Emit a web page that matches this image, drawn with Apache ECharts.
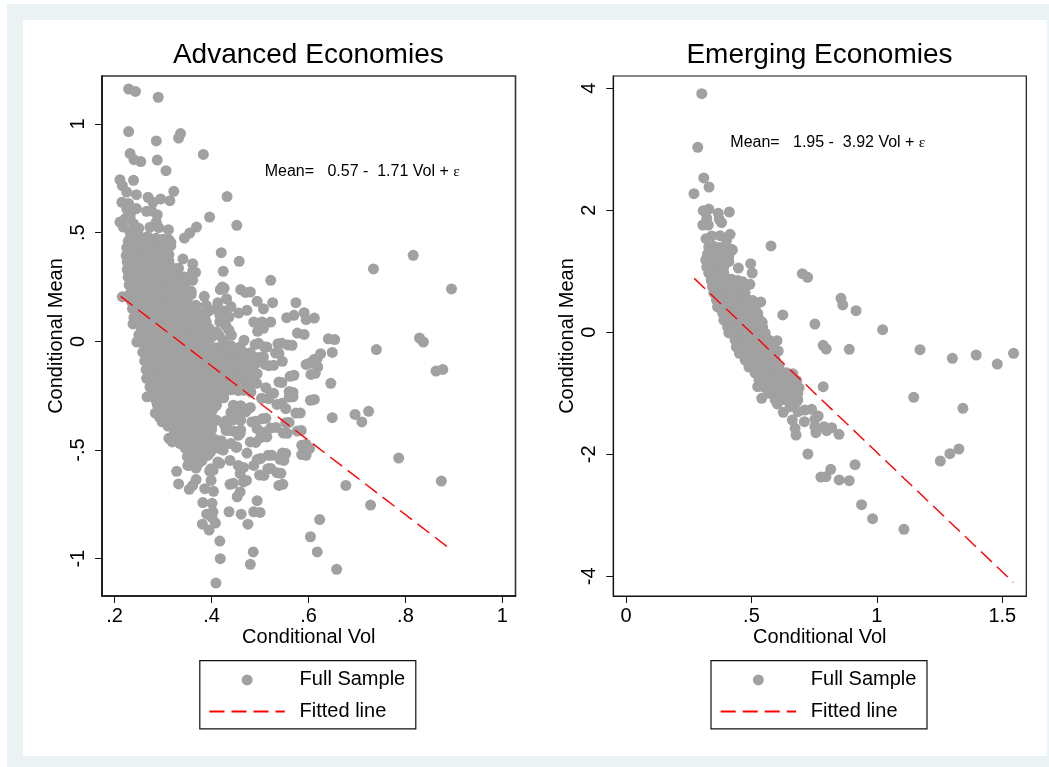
<!DOCTYPE html>
<html><head><meta charset="utf-8">
<style>html,body{margin:0;padding:0;background:#fff}#c{width:1049px;height:767px}</style>
<script src="https://cdn.jsdelivr.net/npm/echarts@6/dist/echarts.min.js"></script>
</head><body><div id="c"></div>
<script>
const advXTicks=[.2,.4,.6,.8,1];
const advYTicks=[-1,-.5,0,.5,1];
const emgXTicks=[0,.5,1,1.5];
const emgYTicks=[-4,-2,0,2,4];
const advFit=[[.2125,.207],[.895,-.96]];
const emgFit=[[.272,.884],[1.544,-4.1]];
const advOutliers=[[.229,1.161],[.243,1.15],[.29,1.123],[.229,.965],[.286,.922],[.336,.956],[.332,.935],[.383,.86],[.232,.864],[.24,.836],[.254,.827],[.288,.834],[.306,.785],[.239,.741],[.211,.744],[.216,.716],[.225,.687],[.245,.675],[.269,.663],[.279,.64],[.295,.655],[.314,.647],[.322,.69],[.432,.666],[.215,.64],[.229,.634],[.245,.611],[.266,.598],[.288,.583],[.396,.572],[.211,.549],[.222,.565],[.232,.572],[.452,.534],[.218,.526],[.239,.541],[.286,.549],[.273,.525],[.291,.523],[.311,.514],[.369,.526],[.355,.498],[.344,.475],[.232,.503],[.25,.52],[.276,.6],[.236,.6],[.225,.61]];
const advCore=[[.235,.49],[.25,.486],[.268,.482],[.285,.474],[.3,.47],[.312,.468],[.316,.455],
[.228,.46],[.246,.462],[.262,.455],[.28,.458],[.298,.447],[.31,.43],[.316,.44],
[.225,.43],[.24,.425],[.257,.43],[.275,.42],[.292,.428],[.308,.41],
[.224,.395],[.24,.39],[.256,.4],[.272,.385],[.29,.395],[.304,.39],[.312,.4],
[.226,.365],[.242,.36],[.258,.37],[.275,.36],[.292,.35],[.306,.36],[.312,.37],
[.226,.33],[.244,.325],[.26,.335],[.278,.325],[.295,.33],[.31,.32],[.322,.335],
[.228,.295],[.244,.29],[.262,.3],[.28,.29],[.296,.295],[.312,.285],[.326,.3],[.338,.282],
[.23,.26],[.247,.255],[.264,.265],[.28,.255],[.298,.26],[.315,.25],[.332,.262],[.344,.258],
[.232,.22],[.25,.225],[.267,.215],[.284,.225],[.3,.22],[.318,.215],[.335,.225],[.346,.22],[.358,.23],
[.216,.205],[.234,.185],[.252,.19],[.27,.18],[.286,.19],[.304,.18],[.32,.19],[.338,.18],[.35,.185],
[.237,.15],[.254,.145],[.27,.155],[.288,.145],[.305,.15],[.322,.14],[.34,.15],[.354,.145],
[.24,.11],[.256,.115],[.274,.105],[.29,.112],[.308,.105],[.325,.115],[.34,.105],[.355,.115],
[.238,.08],[.26,.07],[.278,.075],[.295,.065],[.312,.075],[.33,.065],[.345,.075],[.362,.07],
[.25,.03],[.265,.04],[.282,.03],[.3,.04],[.315,.03],[.332,.04],[.35,.03],[.367,.035],
[.246,-.003],[.267,-.01],[.285,.0],[.3,-.01],[.318,-.002],[.335,-.012],[.352,-.005],[.37,-.01],[.385,-.005],
[.258,-.05],[.272,-.045],[.29,-.055],[.306,-.045],[.322,-.052],[.34,-.045],[.356,-.055],[.373,-.045],[.39,-.05],
[.262,-.09],[.278,-.085],[.295,-.095],[.31,-.085],[.328,-.09],[.345,-.085],[.36,-.095],[.378,-.085],[.395,-.09],
[.265,-.13],[.282,-.125],[.298,-.135],[.315,-.125],[.332,-.13],[.35,-.125],[.365,-.135],[.382,-.125],[.4,-.13],[.41,-.12],
[.266,-.17],[.284,-.165],[.3,-.175],[.318,-.165],[.335,-.17],[.352,-.165],[.37,-.175],[.385,-.165],[.402,-.17],
[.273,-.21],[.288,-.205],[.305,-.215],[.322,-.205],[.34,-.21],[.355,-.205],[.372,-.215],[.39,-.205],[.405,-.21],
[.267,-.255],[.275,-.25],[.292,-.245],[.308,-.255],[.325,-.245],[.342,-.25],[.36,-.245],[.375,-.255],[.392,-.245],
[.288,-.29],[.296,-.285],[.312,-.295],[.33,-.285],[.345,-.29],[.362,-.285],[.38,-.295],[.396,-.285],[.409,-.29],
[.284,-.33],[.3,-.325],[.316,-.335],[.332,-.325],[.35,-.33],[.366,-.325],[.382,-.335],[.4,-.325],
[.298,-.37],[.312,-.365],[.33,-.375],[.345,-.365],[.36,-.37],[.378,-.365],[.392,-.375],[.402,-.365],
[.323,-.41],[.338,-.405],[.354,-.415],[.37,-.405],[.385,-.41],[.4,-.405],
[.312,-.446],[.319,-.463],[.33,-.45],[.345,-.445],[.36,-.455],[.375,-.445],[.39,-.45],[.402,-.445],
[.345,-.49],[.36,-.485],[.376,-.495],[.39,-.485],[.405,-.49],
[.35,-.53],[.364,-.525],[.378,-.535],[.392,-.525],[.355,-.57],[.372,-.565]];
const advFill=[[.232,.475],[.252,.475],[.27,.472],[.29,.468],[.304,.46],
[.232,.44],[.25,.44],[.266,.442],[.284,.438],[.302,.44],
[.232,.41],[.248,.41],[.265,.412],[.283,.408],[.3,.41],
[.232,.378],[.25,.378],[.266,.38],[.283,.376],[.3,.378],
[.234,.345],[.25,.345],[.268,.347],[.285,.343],[.302,.345],[.314,.345],
[.235,.31],[.252,.31],[.27,.312],[.288,.308],[.304,.31],[.32,.31],
[.238,.275],[.255,.275],[.272,.277],[.29,.273],[.306,.275],[.323,.275],[.336,.272],
[.24,.24],[.258,.24],[.275,.242],[.292,.238],[.31,.24],[.326,.24],[.34,.24],
[.242,.2],[.26,.2],[.278,.202],[.295,.198],[.312,.2],[.33,.2],[.342,.2],
[.245,.165],[.262,.165],[.28,.167],[.296,.163],[.313,.165],[.33,.165],[.345,.165],
[.247,.13],[.263,.13],[.28,.132],[.298,.128],[.315,.13],[.332,.13],[.35,.13],
[.25,.09],[.268,.09],[.286,.092],[.303,.088],[.32,.09],[.337,.09],[.353,.09],
[.255,.05],[.272,.05],[.29,.052],[.306,.048],[.323,.05],[.34,.05],[.356,.05],
[.258,.012],[.275,.012],[.292,.014],[.31,.01],[.326,.012],[.343,.012],[.36,.012],[.375,.012],
[.263,-.028],[.28,-.028],[.298,-.026],[.314,-.03],[.33,-.028],[.348,-.028],[.365,-.028],[.38,-.028],
[.27,-.07],[.285,-.07],[.3,-.068],[.318,-.072],[.335,-.07],[.35,-.07],[.365,-.07],[.382,-.07],[.397,-.07],
[.272,-.11],[.29,-.11],[.305,-.108],[.322,-.112],[.34,-.11],[.355,-.11],[.372,-.11],[.39,-.11],
[.273,-.15],[.29,-.15],[.31,-.148],[.326,-.152],[.343,-.15],[.36,-.15],[.378,-.15],[.393,-.15],
[.28,-.19],[.297,-.19],[.313,-.188],[.33,-.192],[.348,-.19],[.363,-.19],[.38,-.19],[.397,-.19],
[.28,-.23],[.298,-.23],[.315,-.228],[.332,-.232],[.35,-.23],[.365,-.23],[.382,-.23],[.398,-.23],
[.285,-.27],[.302,-.27],[.318,-.268],[.335,-.272],[.352,-.27],[.368,-.27],[.385,-.27],[.4,-.27],
[.295,-.31],[.305,-.31],[.323,-.308],[.34,-.312],[.355,-.31],[.372,-.31],[.39,-.31],[.403,-.31],
[.293,-.35],[.31,-.35],[.325,-.348],[.342,-.352],[.358,-.35],[.374,-.35],[.39,-.35],
[.31,-.39],[.322,-.39],[.338,-.388],[.355,-.392],[.37,-.39],[.386,-.39],[.4,-.39],
[.33,-.43],[.345,-.43],[.362,-.428],[.378,-.432],[.393,-.43],
[.335,-.47],[.352,-.47],[.368,-.468],[.384,-.472],[.398,-.47],
[.355,-.51],[.37,-.51],[.385,-.508],[.398,-.51],[.36,-.55],[.38,-.55]];
const advRim=[[.41,-.03],[.425,-.035],[.44,-.02],[.405,-.05],[.42,-.052],[.435,-.05],[.45,-.048],[.465,-.05],[.48,-.052],
[.41,-.078],[.425,-.08],[.44,-.076],[.455,-.078],[.47,-.08],[.49,-.076],[.505,-.08],
[.415,-.106],[.43,-.108],[.445,-.104],[.46,-.106],[.475,-.108],[.49,-.104],[.51,-.106],
[.41,-.133],[.425,-.135],[.44,-.131],[.455,-.133],[.47,-.135],[.485,-.131],
[.415,-.161],[.43,-.163],[.445,-.159],[.465,-.161],[.42,-.189],[.435,-.191],[.45,-.187],[.47,-.189],
[.415,-.225],[.43,-.227],[.44,-.223],[.455,-.225],[.415,-.262],[.425,-.26],[.41,-.294],[.445,-.294],[.46,-.296],
[.44,-.327],[.455,-.329],[.47,-.325],[.41,-.363],[.43,-.365],[.445,-.361],[.46,-.363],[.43,-.41],[.445,-.412],[.46,-.408],
[.41,-.455],[.42,-.457],[.41,-.47],[.425,-.48],[.44,-.47],
[.36,.13],[.375,.13],[.37,.09],[.38,.05],[.395,.06],[.4,.02],[.415,.03],[.43,.07],[.395,.14],[.41,.15],[.425,.14],[.44,.16]];
const advScatter=[[.42,.408],[.457,.368],[.341,.379],[.361,.357],[.326,.333],[.424,.322],[.361,.323],[.344,.296],[.361,.281],[.522,.281],[.422,.25],[.418,.238],[.46,.238],[.48,.227],[.47,.225],[.344,.25],[.358,.216],[.385,.207],[.431,.196],[.494,.184],[.526,.178],[.574,.178],[.413,.178],[.389,.166],[.368,.166],[.347,.166],[.507,.15],[.473,.143],[.456,.13],[.591,.132],[.57,.12],[.555,.109],[.612,.107],[.595,.1],[.436,.112],[.417,.12],[.417,.089],[.386,.112],[.389,.089],[.361,.112],[.365,.074],[.487,.089],[.504,.089],[.522,.089],[.507,.06],[.495,.046],[.577,.038],[.591,.032],[.436,.051],[.441,.028],[.41,.043],[.382,.02],[.641,.012],[.654,.008],[.467,.005],[.49,-.014],[.509,-.026],[.537,-.011],[.558,-.017],[.532,-.054],[.459,-.026],[.424,.005],[.438,-.041],[.399,-.026],[.625,-.057],[.649,-.051],[.611,-.084],[.546,-.092],[.595,-.106],[.518,-.112],[.619,-.118],[.507,-.072],[.487,-.08],[.466,-.08],[.445,-.095],[.42,-.095],[.48,-.118],[.455,-.133],[.494,-.149],[.562,-.161],[.605,-.152],[.539,-.187],[.646,-.193],[.483,-.195],[.455,-.225],[.512,-.213],[.56,-.231],[.481,-.233],[.522,-.241],
[.56,-.256],[.604,-.271],[.518,-.264],[.535,-.29],[.553,-.31],[.476,-.31],[.452,-.333],[.574,-.33],[.505,-.356],[.649,-.351],[.696,-.336],[.724,-.322],[.71,-.371],[.483,-.371],[.553,-.374],[.427,-.386],[.494,-.402],[.522,-.399],[.577,-.413],[.548,-.422],[.511,-.417],[.501,-.443],[.455,-.432],[.48,-.463],[.586,-.478],[.452,-.486],[.417,-.494],[.591,-.497],[.473,-.514],[.517,-.524],[.586,-.521],[.546,-.514],[.494,-.544],[.541,-.543],[.438,-.548],[.786,-.537],[.413,-.555],[.487,-.571],[.455,-.571],[.516,-.586],[.399,-.586],[.535,-.604],[.459,-.609],[.499,-.615],[.328,-.598],[.351,-.571],[.368,-.583],[.396,-.597],[.399,-.64],[.368,-.636],[.466,-.647],[.874,-.643],[.332,-.656],[.361,-.663],[.438,-.658],[.677,-.663],[.539,-.663],[.386,-.678],[.354,-.681],[.404,-.69],[.459,-.693],[.453,-.715],[.494,-.733],[.382,-.742],[.401,-.745],[.728,-.753],[.436,-.784],[.461,-.795],[.487,-.784],[.5,-.787],[.403,-.785],[.39,-.795],[.401,-.811],[.623,-.82],[.381,-.841],[.408,-.836],[.475,-.841],[.395,-.868],[.604,-.899],[.417,-.919],[.486,-.969],[.618,-.969],[.418,-1],[.48,-1.026],[.658,-1.049],[.409,-1.112],
[.734,.333],[.816,.396],[.895,.241],[.74,-.038],[.829,.015],[.837,-.003],[.863,-.137],[.877,-.129],
[.497,-.009],[.514,-.026],[.545,-.009],[.566,-.018],[.539,-.055],[.451,-.101],[.472,-.087],[.497,-.074],[.528,-.11],[.48,-.166],[.459,-.143],[.493,-.193],[.466,-.225],[.528,-.239],[.503,-.262],[.48,-.304],[.545,-.189],[.57,-.156],[.568,-.235],[.568,-.255],[.612,-.267],[.602,-.101],[.618,-.078],[.614,-.147],[.545,-.285],[.451,-.317],[.438,-.363],[.438,-.41],[.459,-.423],[.451,-.488],[.424,-.5],[.583,-.33],[.56,-.373],[.556,-.423],[.585,-.41],[.595,-.474],[.595,-.524],[.602,-.493],[.512,-.354],[.491,-.368],[.533,-.396],[.514,-.44],[.491,-.465],[.524,-.524],[.501,-.539],[.553,-.516],[.549,-.548],[.522,-.585],[.543,-.607],[.508,-.617],[.547,-.658],[.466,-.58],[.417,-.561],[.403,-.594],[.472,-.64],[.445,-.653],[.367,.317],[.349,.294],[.332,.336],[.426,.244]];
const emgOutliers=[[.302,3.911],[.286,3.033],[.31,2.53],[.331,2.382],[.271,2.272],[.33,2.021],[.308,1.993],[.368,1.951],[.412,1.972],[.322,1.869],[.372,1.852],[.381,1.797],[.306,1.759],[.328,1.759],[.415,1.607],[.375,1.584],[.342,1.579],[.319,1.534],[.401,1.513],[.424,1.349],[.578,1.415],[.342,1.377],[.375,1.361],[.408,1.223],[.322,1.213],[.497,1.125],[.448,1.054],[.503,.972],[.703,.961],[.724,.902],[.494,.787],[.857,.557],[.864,.448],[.917,.354],[.537,.497],[.625,.284],[.543,.164],[.753,.136],[1.023,.043],[.602,-.138],[.786,-.213],[.798,-.274],[.89,-.279],[1.172,-.285],[1.301,-.426],[1.396,-.372],[1.48,-.52],[1.545,-.344],[.607,-.307],[.452,-.344],[1.147,-1.066],[.786,-.892],[.525,-.892],[.541,-1.082],
[1.343,-1.246],[1.327,-1.913],[1.291,-1.99],[1.253,-2.11],[.725,-1.995],[.913,-2.17],[.816,-2.246],[.777,-2.372],[.797,-2.367],[.85,-2.421],[.89,-2.433],[.939,-2.826],[.983,-3.056],[1.108,-3.23],[.849,-1.672],[.82,-1.564],[.789,-1.548],[.8,-1.613],[.757,-1.646],[.753,-1.548],[.678,-1.684],[.674,-1.574],[.663,-1.438],[.766,-1.372],[.74,-1.262],[.753,-1.426],[.711,-1.466],[.713,-1.274],[.686,-1.302],[.627,-1.311],[.603,-1.175],[.68,-1.138],[.68,-1.03],[.654,-1.22]];
const emgCore=[[.33,1.4],[.35,1.41],[.375,1.39],[.4,1.4],[.42,1.36],[.325,1.28],[.345,1.29],[.37,1.27],[.395,1.28],[.41,1.25],
[.318,1.185],[.34,1.19],[.365,1.18],[.39,1.19],[.41,1.16],[.322,1.07],[.345,1.08],[.37,1.06],[.39,1.07],[.33,.97],[.35,.98],[.375,.96],[.39,.97],
[.34,.85],[.365,.86],[.39,.84],[.42,.87],[.445,.85],[.465,.83],[.345,.745],[.37,.75],[.395,.74],[.42,.75],[.445,.74],[.47,.75],
[.35,.645],[.375,.65],[.4,.64],[.425,.65],[.45,.64],[.475,.65],[.36,.53],[.385,.535],[.41,.525],[.435,.535],[.46,.525],[.485,.535],[.505,.52],
[.365,.415],[.39,.42],[.415,.41],[.44,.42],[.465,.41],[.49,.42],[.515,.41],[.385,.315],[.41,.32],[.435,.31],[.46,.32],[.485,.31],[.51,.32],[.525,.31],
[.39,.2],[.415,.205],[.44,.195],[.465,.205],[.49,.195],[.515,.205],[.535,.195],[.405,.085],[.43,.09],[.455,.08],[.48,.09],[.505,.08],[.53,.09],[.545,.08],
[.41,-.01],[.435,-.005],[.46,-.015],[.485,-.005],[.51,-.015],[.535,-.005],[.555,-.015],[.435,-.126],[.455,-.12],[.48,-.13],[.505,-.12],[.53,-.13],[.555,-.12],[.57,-.13],
[.44,-.24],[.465,-.235],[.49,-.245],[.515,-.235],[.54,-.245],[.565,-.235],[.585,-.245],[.46,-.34],[.485,-.335],[.51,-.345],[.535,-.335],[.56,-.345],[.585,-.335],
[.475,-.455],[.5,-.45],[.525,-.46],[.55,-.45],[.575,-.46],[.595,-.45],[.49,-.57],[.515,-.565],[.54,-.575],[.565,-.565],[.59,-.575],[.61,-.565],
[.515,-.67],[.54,-.665],[.565,-.675],[.59,-.665],[.615,-.675],[.64,-.665],[.665,-.68],[.53,-.78],[.555,-.775],[.58,-.785],[.605,-.775],[.63,-.785],[.655,-.775],[.68,-.79],
[.55,-.9],[.57,-.895],[.595,-.905],[.62,-.895],[.645,-.905],[.67,-.895],[.69,-.91],[.57,-1],[.595,-.995],[.62,-1.005],[.645,-.995],[.67,-1.005],[.685,-1],[.595,-1.11],[.62,-1.105],[.645,-1.115],[.665,-1.105],[.685,-1.11],
[.335,1.33],[.36,1.33],[.385,1.33],[.33,1.12],[.355,1.12],[.38,1.12],[.34,.91],[.365,.91],[.355,.8],[.38,.8],[.405,.8]];
const advMeanAnnot=['Mean=   0.57 -  1.71 Vol + ','ε'];
const emgMeanAnnot=['Mean=   1.95 -  3.92 Vol + ','ε'];

const FONT='"Liberation Sans",Arial,sans-serif';
const GREY='#a1a1a1';
const INK='#000';
const dot=v=>String(v).replace(/^(-?)0\./,'$1.');
function mkAxes(idx,name,ticks,min,max,rot,gap,lineW){
  return {gridIndex:idx,type:'value',min,max,name,nameLocation:'middle',nameGap:gap,nameMoveOverlap:false,
    nameTextStyle:{fontFamily:FONT,fontSize:20,color:INK},
    axisLine:{show:true,onZero:false,lineStyle:{color:'#111',width:lineW}},
    axisTick:{show:true,length:7,customValues:ticks,lineStyle:{color:'#111',width:1}},
    axisLabel:{show:true,customValues:ticks,formatter:dot,rotate:rot,margin:rot?14:10,fontFamily:FONT,fontSize:20,color:INK},
    splitLine:{show:false}};
}
function mkLegend(left){
  return {left,top:660.7,orient:'vertical',itemWidth:75.3,itemHeight:11,itemGap:11.5,align:'left',
    padding:[9.2,10.6,7.4,8.7],borderColor:'#111',borderWidth:1.2,selectedMode:false,
    data:[{name:'Full Sample'},{name:'Fitted line',itemStyle:{color:'transparent',opacity:0}}],
    textStyle:{fontFamily:FONT,fontSize:20,color:INK,lineHeight:20,padding:[0,0,0,9.8]}};
}
function note(x,y,parts){
  return {type:'text',left:x,top:y,z:20,style:{
    text:'{a|'+parts[0]+'}{b|'+parts[1]+'}',
    rich:{a:{fontFamily:FONT,fontSize:16,fill:INK},b:{fontFamily:'"Liberation Serif",serif',fontSize:15.5,fill:INK}}}};
}
function pts(name,data,xi){return {name,type:'scatter',xAxisIndex:xi,yAxisIndex:xi,data,symbol:'circle',symbolSize:11,
  itemStyle:{color:GREY,opacity:1},silent:true,z:3};}
function fit(data,xi){return {name:'Fitted line',type:'line',xAxisIndex:xi,yAxisIndex:xi,data,showSymbol:false,symbol:'none',
  lineStyle:{color:'#ff0000',width:1.4,type:[15,7]},itemStyle:{color:'#ff0000'},silent:true,z:5};}

const chart=echarts.init(document.getElementById('c'),null,{renderer:'canvas'});
chart.setOption({
  animation:false,backgroundColor:'#fff',
  graphic:[
    {type:'rect',shape:{x:7,y:4,width:1042,height:763},style:{fill:'#eaf2f3'},z:-2,silent:true},
    {type:'rect',shape:{x:23,y:20,width:1024.3,height:736},style:{fill:'#fff'},z:-1,silent:true},
    note(264.7,163.5,advMeanAnnot),note(730.3,135,emgMeanAnnot)
  ],
  title:[
    {text:'Advanced Economies',left:308.3,top:41,padding:0,textAlign:'center',textStyle:{fontFamily:FONT,fontSize:28,fontWeight:'normal',color:INK}},
    {text:'Emerging Economies',left:819.5,top:41,padding:0,textAlign:'center',textStyle:{fontFamily:FONT,fontSize:28,fontWeight:'normal',color:INK}}
  ],
  grid:[
    {left:102.1,top:76,width:413.4,height:520,show:true,borderColor:'#333',borderWidth:1.6,backgroundColor:'#fff'},
    {left:613.3,top:76,width:413,height:520,show:true,borderColor:'#111',borderWidth:1.2,backgroundColor:'#fff'}
  ],
  xAxis:[mkAxes(0,'Conditional Vol',advXTicks,.1742,1.027,0,31,1.6),mkAxes(1,'Conditional Vol',emgXTicks,-.0506,1.5957,0,31,1.2)],
  yAxis:[mkAxes(0,'Conditional Mean',advYTicks,-1.1716,1.2208,90,35.5,1.6),mkAxes(1,'Conditional Mean',emgYTicks,-4.323,4.2016,90,35.5,1.2)],
  legend:[mkLegend(199.8),mkLegend(711)],
  series:[
    pts('Full Sample',advOutliers.concat(advCore,advFill,advRim,advScatter),0),fit(advFit,0),
    pts('Full Sample',emgOutliers.concat(emgCore),1),fit(emgFit,1)
  ]
});
</script></body></html>
